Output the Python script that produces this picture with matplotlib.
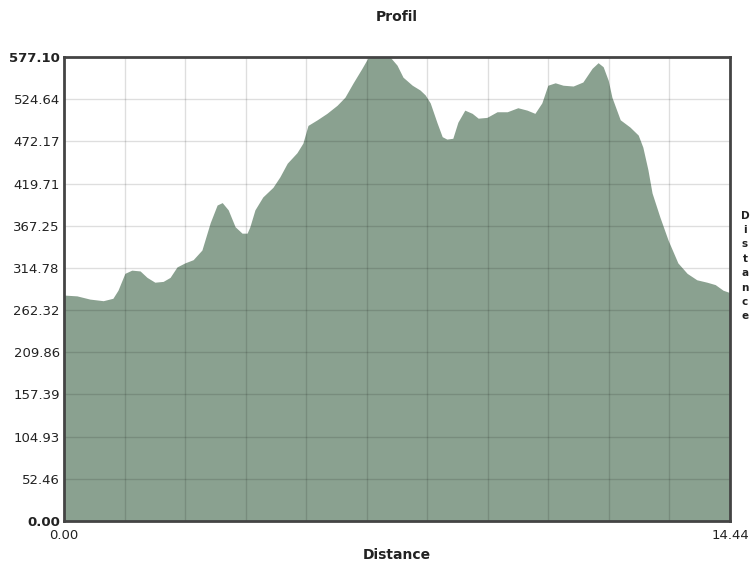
import numpy as np
import matplotlib
matplotlib.use("Agg")
import matplotlib.pyplot as plt

# Profile data (distance, elevation)
dist = [0.00, 0.28, 0.56, 0.85, 1.06, 1.17, 1.32, 1.47, 1.65, 1.80,
        1.97, 2.15, 2.30, 2.45, 2.62, 2.80, 2.99, 3.17, 3.32, 3.43,
        3.56, 3.71, 3.86, 3.97, 4.03, 4.14, 4.31, 4.53, 4.68, 4.84,
        5.05, 5.18, 5.29, 5.49, 5.70, 5.92, 6.09, 6.27, 6.46, 6.59,
        6.85, 7.07, 7.22, 7.35, 7.55, 7.72, 7.83, 7.94, 8.09, 8.20,
        8.30, 8.43, 8.54, 8.69, 8.85, 8.98, 9.17, 9.39, 9.61, 9.84,
        10.04, 10.21, 10.36, 10.49, 10.65, 10.82, 11.04, 11.25, 11.45, 11.58,
        11.69, 11.80, 11.88, 12.06, 12.27, 12.45, 12.55, 12.66, 12.75, 12.92,
        13.10, 13.31, 13.51, 13.72, 13.94, 14.12, 14.29, 14.44]
elev = [281, 280, 276, 274, 277, 287, 308, 312, 311, 303,
        297, 298, 303, 316, 321, 325, 337, 371, 393, 396,
        387, 366, 358, 358, 366, 387, 403, 415, 428, 445,
        458, 470, 492, 499, 507, 517, 527, 545, 563, 576,
        577, 577, 567, 552, 542, 536, 530, 520, 495, 478,
        475, 476, 496, 511, 507, 501, 502, 509, 509, 514,
        511, 507, 520, 542, 545, 542, 541, 546, 563, 570,
        565, 548, 527, 499, 490, 480, 465, 437, 408, 378,
        349, 321, 308, 300, 297, 294, 287, 284]

x_max = 14.44
y_max = 577.10
y_tick_labels = ["0.00", "52.46", "104.93", "157.39", "209.86", "262.32",
                 "314.78", "367.25", "419.71", "472.17", "524.64", "577.10"]
y_ticks = np.linspace(0, y_max, len(y_tick_labels))
x_grid = np.linspace(0, x_max, 12)

fill_color = "#8aa190"
text_color = "#222222"

fig = plt.figure(figsize=(7.5, 5.62), dpi=100)
ax = fig.add_axes([64 / 750, 41 / 562, 666 / 750, 464 / 562])

ax.fill_between(dist, elev, 0, color=fill_color, lw=0, zorder=1)

ax.set_xlim(0, x_max)
ax.set_ylim(0, y_max)

# grid drawn over the fill, semi transparent
for xv in x_grid[1:-1]:
    ax.axvline(xv, color="black", alpha=0.13, lw=1.0, zorder=2)
for yv in y_ticks[1:-1]:
    ax.axhline(yv, color="black", alpha=0.13, lw=1.0, zorder=2)

ax.set_yticks(y_ticks)
ax.set_yticklabels(y_tick_labels)
ax.set_xticks([0, x_max])
ax.set_xticklabels(["0.00", f"{x_max:.2f}"])
ax.tick_params(length=0, labelsize=9.5, colors=text_color, pad=3)
ax.tick_params(axis="x", pad=6)
ylabels = ax.get_yticklabels()
ylabels[0].set_fontweight("bold")
ylabels[-1].set_fontweight("bold")

for s in ax.spines.values():
    s.set_color("#444444")
    s.set_linewidth(2)
    s.set_zorder(3)

fig.text(397 / 750, 1 - 17 / 562, "Profil", ha="center", va="center",
         fontsize=10, fontweight="bold", color=text_color)
fig.text(397 / 750, 1 - 555 / 562, "Distance", ha="center", va="center",
         fontsize=10, fontweight="bold", color=text_color)
fig.text(745 / 750, 1 - 266 / 562, "\n".join("Distance"), ha="center",
         va="center", fontsize=7.5, fontweight="bold", color=text_color,
         linespacing=1.55)

fig.savefig("out.png", dpi=100)
